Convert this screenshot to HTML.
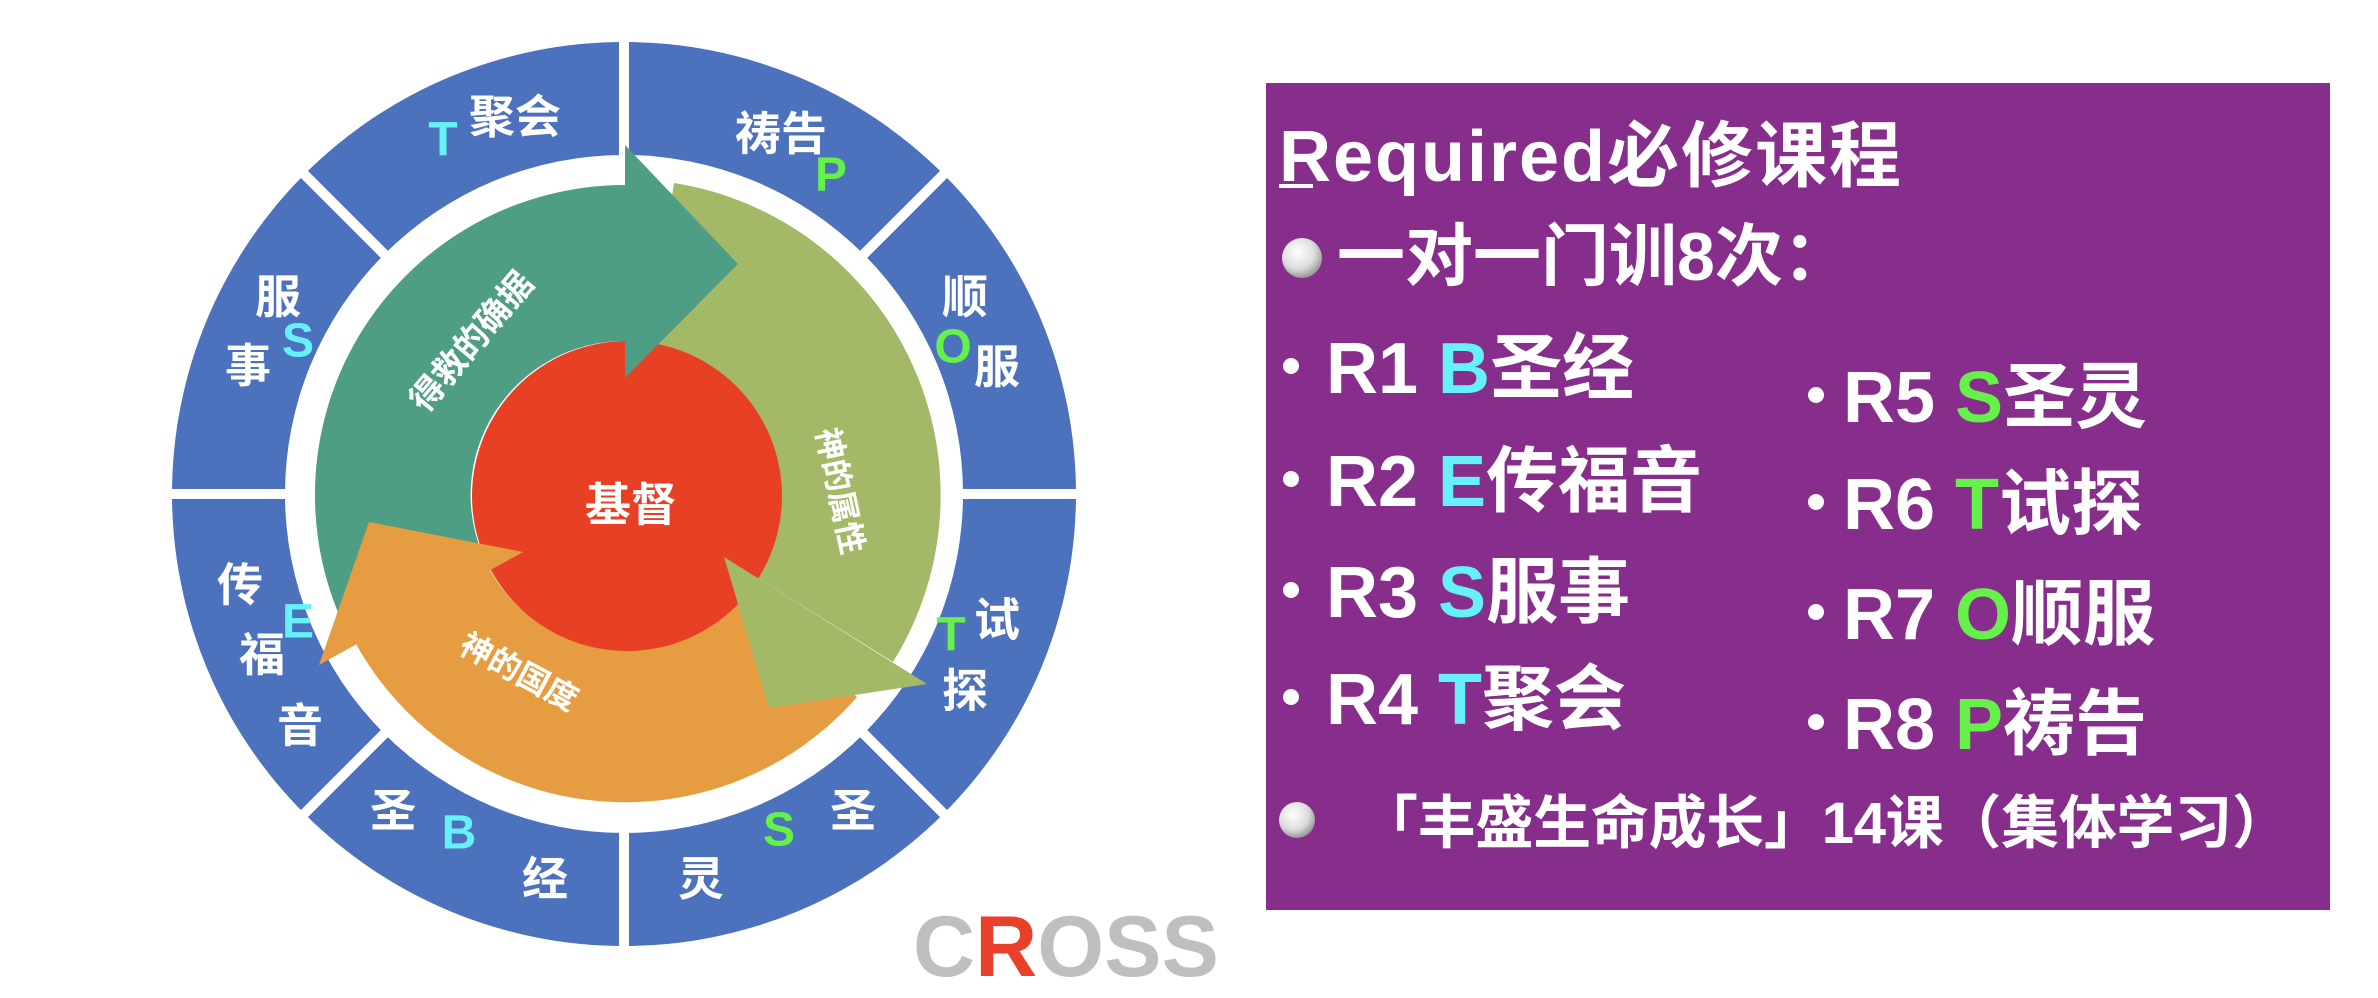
<!DOCTYPE html>
<html><head><meta charset="utf-8"><style>
html,body{margin:0;padding:0;background:#fff;}
svg{display:block;}
.cj{font-family:"Liberation Sans","Noto Sans CJK SC",sans-serif;}
</style></head><body>
<svg width="2378" height="998" viewBox="0 0 2378 998" xmlns="http://www.w3.org/2000/svg" class="cj">
<defs>
<radialGradient id="sph" cx="0.4" cy="0.35" r="0.7">
<stop offset="0" stop-color="#ffffff"/><stop offset="0.6" stop-color="#dcdcdc"/><stop offset="1" stop-color="#8c8c8c"/>
</radialGradient>
</defs>
<circle cx="624" cy="494" r="452" fill="#4C72BD"/>
<g stroke="#fff" stroke-width="10">
<line x1="624" y1="30" x2="624" y2="958"/>
<line x1="160" y1="494" x2="1088" y2="494"/>
<line x1="296" y1="166" x2="952" y2="822"/>
<line x1="952" y1="166" x2="296" y2="822"/>
</g>
<circle cx="624" cy="494" r="339" fill="#fff"/>
<path d="M 344,626 A 310 310 0 0 1 625,185 L 625,341 A 154 154 0 0 0 485,560 Z" fill="#4E9E86"/>
<path d="M 674,183 A 316 316 0 0 1 893,662 L 756,577 A 154 154 0 0 0 649,343 Z" fill="#A3B967"/>
<path d="M 857,697 A 308 308 0 0 1 356,644 L 490,570 A 154 154 0 0 0 741,596 Z" fill="#E69D42"/>
<circle cx="627" cy="496" r="155" fill="#E84025"/>
<polygon points="625,145 738,264 625,378" fill="#4E9E86"/>
<polygon points="927,684 769,708 724,557" fill="#A3B967"/>
<polygon points="319,665 369,522 523,552" fill="#E69D42"/>
<text x="631" y="505" font-size="46" font-weight="bold" fill="#fff" text-anchor="middle" dominant-baseline="central">基督</text>
<text transform="translate(472,342) rotate(-50)" font-size="34" font-weight="bold" fill="#fff" text-anchor="middle" dominant-baseline="central">得救的确据</text>
<text transform="translate(840,491) rotate(78)" font-size="32" font-weight="bold" fill="#fff" text-anchor="middle" dominant-baseline="central">神的属性</text>
<text transform="translate(519,672) rotate(28)" font-size="32" font-weight="bold" fill="#fff" text-anchor="middle" dominant-baseline="central">神的国度</text>
<g font-size="46" font-weight="bold" fill="#fff" text-anchor="middle" dominant-baseline="central">
<text x="515" y="117">聚会</text>
<text x="781" y="134">祷告</text>
<text x="278" y="297">服</text>
<text x="248" y="366">事</text>
<text x="965" y="297">顺</text>
<text x="997" y="367">服</text>
<text x="240" y="585">传</text>
<text x="262" y="655">福</text>
<text x="300" y="726">音</text>
<text x="997" y="620">试</text>
<text x="965" y="691">探</text>
<text x="393" y="811">圣</text>
<text x="545" y="879">经</text>
<text x="853" y="811">圣</text>
<text x="701" y="879">灵</text>
</g>
<g font-size="48" font-weight="bold" text-anchor="middle" dominant-baseline="central">
<text x="443" y="140" fill="#66F0F7">T</text>
<text x="831" y="175" fill="#66F04A">P</text>
<text x="298" y="341" fill="#66F0F7">S</text>
<text x="953" y="347" fill="#66F04A">O</text>
<text x="298" y="622" fill="#66F0F7">E</text>
<text x="951" y="635" fill="#66F04A">T</text>
<text x="459" y="833" fill="#66F0F7">B</text>
<text x="779" y="830" fill="#66F04A">S</text>
</g>
<text x="913" y="976" font-size="86" font-weight="bold" fill="#BFBFBF">C<tspan fill="#E8402A">R</tspan>OSS</text>
<rect x="1266" y="83" width="1064" height="827" fill="#872E8C"/>
<text x="1279" y="181" font-size="72" font-weight="bold" fill="#fff" textLength="622">Required必修课程</text>
<rect x="1279" y="184" width="34" height="4" fill="#fff"/>
<circle cx="1302" cy="258" r="20" fill="url(#sph)"/>
<text x="1337" y="280" font-size="68" font-weight="bold" fill="#fff">一对一门训8次：</text>
<g fill="#fff">
<circle cx="1291" cy="366" r="8"/><circle cx="1291" cy="479" r="8"/><circle cx="1291" cy="590" r="8"/><circle cx="1291" cy="697" r="8"/>
<circle cx="1816" cy="395" r="8"/><circle cx="1816" cy="502" r="8"/><circle cx="1816" cy="612" r="8"/><circle cx="1816" cy="722" r="8"/>
</g>
<g font-size="72" font-weight="bold" fill="#fff">
<text x="1326" y="393">R1 <tspan fill="#66F0F7">B</tspan>圣经</text>
<text x="1326" y="506">R2 <tspan fill="#66F0F7">E</tspan>传福音</text>
<text x="1326" y="617">R3 <tspan fill="#66F0F7">S</tspan>服事</text>
<text x="1326" y="724">R4 <tspan fill="#66F0F7">T</tspan>聚会</text>
<text x="1843" y="422">R5 <tspan fill="#66F04A">S</tspan>圣灵</text>
<text x="1843" y="529">R6 <tspan fill="#66F04A">T</tspan>试探</text>
<text x="1843" y="639">R7 <tspan fill="#66F04A">O</tspan>顺服</text>
<text x="1843" y="749">R8 <tspan fill="#66F04A">P</tspan>祷告</text>
</g>
<circle cx="1297" cy="820" r="18" fill="url(#sph)"/>
<text x="1360" y="843" font-size="58" font-weight="bold" fill="#fff" textLength="930">「丰盛生命成长」14课（集体学习）</text>
</svg>
</body></html>
